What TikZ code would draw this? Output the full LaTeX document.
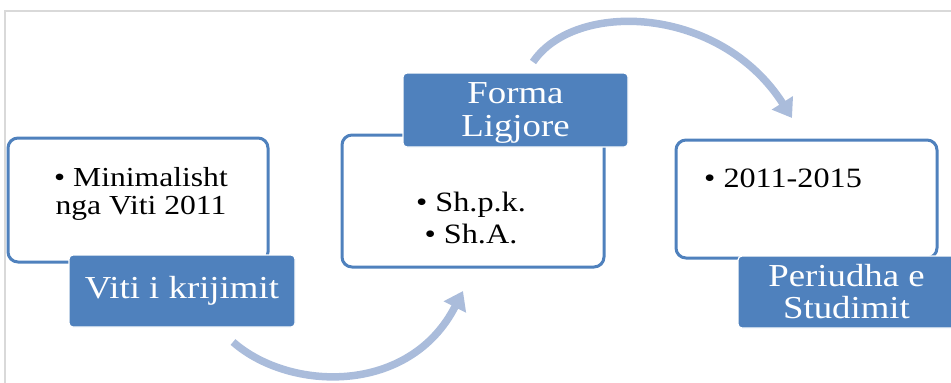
\documentclass[tikz,border=0pt]{standalone}
\usepackage{fontspec}
\setmainfont[FakeStretch=1.15]{Liberation Serif}
\usetikzlibrary{arrows.meta}
\definecolor{accent}{HTML}{4F81BD}
\definecolor{flow}{HTML}{AABCDB}
\definecolor{frame}{HTML}{D9D9D9}
\tikzset{
  panel/.style={draw=accent, line width=3pt, fill=white, rounded corners=10pt, inner sep=0pt},
  tag/.style={fill=accent, draw=white, line width=1.2pt, rounded corners=4pt, inner sep=0pt,
              text=white, align=center},
  body/.style={text=black, align=center, inner sep=0pt},
  flowarrow/.style={draw=flow, line width=7.5pt, -{Triangle[width=24pt,length=18pt]}}
}
\begin{document}
\begin{tikzpicture}[x=1pt,y=-1pt]
\useasboundingbox (0,0) rectangle (951,383);
% outer frame
\draw[frame, line width=2pt] (5,383) -- (5,11) -- (951,11);

% panels
\node[panel, minimum width=260pt, minimum height=124pt] (p1) at (138,200) {};
\node[panel, minimum width=262pt, minimum height=132pt] (p2) at (473,201) {};
\node[panel, minimum width=261pt, minimum height=118pt] (p3) at (806.5,199) {};

% panel contents
\node[body, font=\fontsize{27.5}{28}\selectfont] (t1) at (141,194) {• Minimalisht\\nga Viti 2011};
\node[body, font=\fontsize{28}{32}\selectfont] (t2) at (471,218) {• Sh.p.k.\\• Sh.A.};
\node[body, anchor=west, font=\fontsize{28}{33}\selectfont] (t3) at (704,178) {• 2011-2015};

% tags
\node[tag, minimum width=226pt, minimum height=72pt, font=\fontsize{32}{34}\selectfont] (g1) at (182,291) {Viti i krijimit};
\node[tag, minimum width=225pt, minimum height=74pt, font=\fontsize{32}{33}\selectfont] (g2) at (515.5,110) {};
\node[body, text=white, font=\fontsize{32}{33}\selectfont] (g2t) at (515.5,113) {Forma\\Ligjore};
\node[tag, minimum width=217pt, minimum height=72pt, font=\fontsize{32}{32}\selectfont] (g3) at (846.5,292) {Periudha e\\Studimit};

% flow arrows between the steps
\coordinate (a1s) at (233,342);
\coordinate (a1e) at (463,291);
\coordinate (a2s) at (533,62);
\coordinate (a2e) at (792,118);
\draw[flowarrow] (a1s) .. controls (290,392) and (410,395) .. (a1e);
\draw[flowarrow] (a2s) .. controls (575,0) and (720,5) .. (a2e);
\end{tikzpicture}
\end{document}
